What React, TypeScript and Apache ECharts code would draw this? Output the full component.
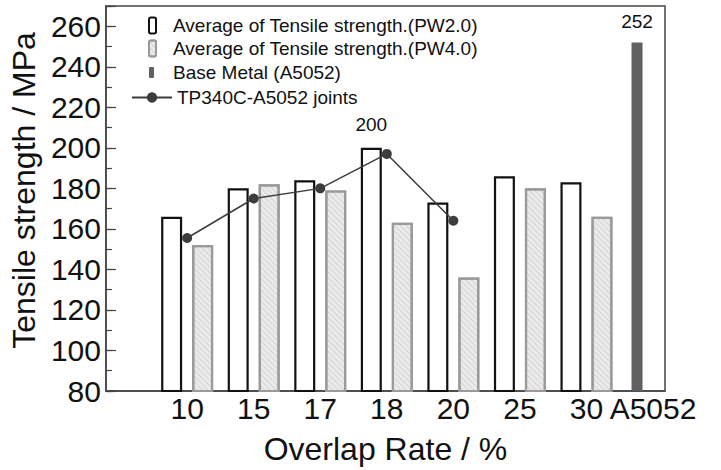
import React, { useEffect, useRef } from "react";
import * as echarts from "echarts";

const categories = ["10", "15", "17", "18", "20", "25", "30", "A5052"];
const pw2Values = [166, 180, 184, 200, 173, 186, 183];
const pw4Values = [152, 182, 179, 163, 136, 180, 166];
const baseMetalValue = 252;
const jointValues = [155.5, 175, 180, 197, 164];
const yMin = 80;
const yMax = 270;
const yLastLabel = 260;
const yMajorStep = 20;
const yMinorStep = 10;
const pw2LabelIndex = 3;

const S_PW2 = "Average of Tensile strength.(PW2.0)";
const S_PW4 = "Average of Tensile strength.(PW4.0)";
const S_BASE = "Base Metal (A5052)";
const S_JOINT = "TP340C-A5052 joints";

const FONT = "'Liberation Sans', Arial, sans-serif";

export default function App() {
  const ref = useRef<HTMLDivElement>(null);
  useEffect(() => {
    if (!ref.current) return;
    const chart = echarts.init(ref.current, undefined, { renderer: "svg" });
    const baseIdx = categories.indexOf("A5052");
    const xMin = -1.22;
    const xMax = 7.18;
    const labelStyle = { show: true, position: "top", fontSize: 19, color: "#111", fontFamily: FONT };
    chart.setOption({
      animation: false,
      textStyle: { fontFamily: FONT },
      grid: {
        left: 100,
        right: 56,
        top: 6,
        bottom: 74,
        show: true,
        borderColor: "#444",
        borderWidth: 1.5,
        backgroundColor: "transparent",
      },
      legend: [
        {
          data: [S_PW2, S_PW4],
          orient: "vertical",
          left: 148,
          top: 16,
          padding: 0,
          itemWidth: 7,
          itemHeight: 16,
          itemGap: 4,
          textStyle: { fontSize: 19, color: "#111", fontFamily: FONT, padding: [0, 0, 0, 12] },
        },
        {
          data: [S_BASE],
          orient: "vertical",
          left: 149,
          top: 63,
          padding: 0,
          itemWidth: 5,
          itemHeight: 11,
          textStyle: { fontSize: 19, color: "#111", fontFamily: FONT, padding: [0, 0, 0, 14] },
        },
        {
          data: [S_JOINT],
          orient: "vertical",
          left: 131,
          top: 88,
          padding: 0,
          itemWidth: 40,
          itemHeight: 13,
          textStyle: { fontSize: 19, color: "#111", fontFamily: FONT },
        },
      ],
      xAxis: [
        {
          type: "value",
          min: xMin,
          max: xMax,
          name: "Overlap Rate / %",
          nameLocation: "middle",
          nameGap: 42,
          nameTextStyle: { fontSize: 32, color: "#111", fontFamily: FONT },
          axisLine: { show: true, onZero: false, lineStyle: { color: "#444", width: 1.5 } },
          axisTick: { show: false },
          splitLine: { show: false },
          axisLabel: {
            customValues: categories.map((_, i) => i),
            formatter: (v: number) => categories[Math.round(v)] ?? "",
            fontSize: 30,
            color: "#111",
            margin: 2,
            fontFamily: FONT,
          },
        },
        {
          type: "value",
          min: xMin,
          max: xMax,
          show: false,
          axisLine: { onZero: false },
        },
      ],
      yAxis: [
        {
          type: "value",
          position: "left",
          min: yMin,
          max: yMax,
          interval: yMajorStep,
          name: "Tensile strength / MPa",
          nameLocation: "middle",
          nameGap: 58,
          nameTextStyle: { fontSize: 32, color: "#111", fontFamily: FONT, padding: [0, 0, 0, 16] },
          axisLine: { show: true, onZero: false, lineStyle: { color: "#444", width: 1.5 } },
          axisTick: { show: true, inside: true, length: 10, lineStyle: { color: "#444", width: 1.2 } },
          axisLabel: {
            fontSize: 30,
            color: "#111",
            margin: 5,
            fontFamily: FONT,
            formatter: (v: number) => (v > yLastLabel ? "" : String(v)),
          },
          splitLine: { show: false },
        },
        {
          type: "value",
          position: "left",
          min: yMin,
          max: yMax,
          interval: yMinorStep,
          axisLine: { show: false, onZero: false },
          axisLabel: { show: false },
          axisTick: { show: true, inside: true, length: 6, lineStyle: { color: "#444", width: 1.2 } },
          splitLine: { show: false },
        },
      ],
      series: [
        {
          name: S_PW2,
          type: "bar",
          xAxisIndex: 0,
          barWidth: 21,
          barGap: "47.6%",
          itemStyle: { color: "#ffffff", borderColor: "#111", borderWidth: 2.2 },
          data: pw2Values.map((v, i) =>
            i === pw2LabelIndex
              ? { value: [i, v], label: { ...labelStyle, distance: 14 } }
              : { value: [i, v] }
          ),
        },
        {
          name: S_PW4,
          type: "bar",
          xAxisIndex: 0,
          barWidth: 21,
          barGap: "47.6%",
          itemStyle: {
            color: "#ebebeb",
            borderColor: "#9a9a9a",
            borderWidth: 2.2,
            decal: {
              symbol: "rect",
              symbolSize: 1,
              dashArrayX: [1, 0],
              dashArrayY: [1, 3],
              rotation: Math.PI / 4,
              color: "rgba(0,0,0,0.10)",
            },
          },
          data: pw4Values.map((v, i) => [i, v]),
        },
        {
          name: S_BASE,
          type: "bar",
          xAxisIndex: 1,
          barWidth: 11,
          barGap: "100%",
          itemStyle: { color: "#606060" },
          data: [{ value: [baseIdx, baseMetalValue], label: { ...labelStyle, distance: 11 } }],
        },
        {
          name: "spacer",
          type: "bar",
          xAxisIndex: 1,
          barWidth: 21,
          barGap: "100%",
          itemStyle: { color: "transparent" },
          data: [],
        },
        {
          name: S_JOINT,
          type: "line",
          xAxisIndex: 0,
          symbol: "circle",
          symbolSize: 10,
          z: 5,
          lineStyle: { color: "#3c3c3c", width: 1.5 },
          itemStyle: { color: "#3c3c3c" },
          data: jointValues.map((v, i) => [i, v]),
        },
      ],
    });
    return () => chart.dispose();
  }, []);
  return (
    <div
      ref={ref}
      style={{ position: "fixed", left: 0, top: 0, width: 721, height: 470, background: "#fff" }}
    />
  );
}
